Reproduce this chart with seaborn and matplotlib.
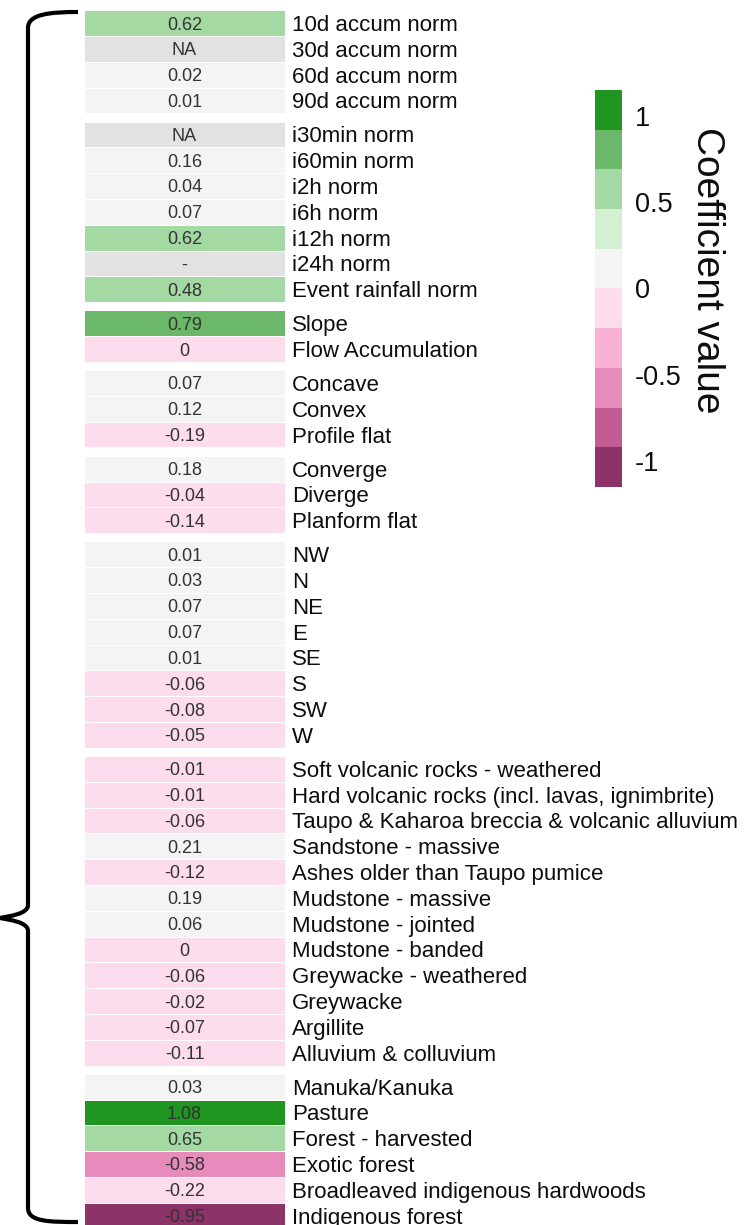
import numpy as np
import pandas as pd
import matplotlib
matplotlib.use("Agg")
import matplotlib.pyplot as plt
from matplotlib.colors import ListedColormap, BoundaryNorm
from matplotlib.cm import ScalarMappable
from matplotlib.path import Path
from matplotlib.patches import PathPatch
import seaborn as sns

# ---- predictor groups and their coefficients (NaN = not available) ----
accum_labels = ["10d accum norm", "30d accum norm", "60d accum norm", "90d accum norm"]
accum_coef = [0.62, np.nan, 0.02, 0.01]

intensity_labels = ["i30min norm", "i60min norm", "i2h norm", "i6h norm",
                    "i12h norm", "i24h norm", "Event rainfall norm"]
intensity_coef = [np.nan, 0.16, 0.04, 0.07, 0.62, np.nan, 0.48]

terrain_labels = ["Slope", "Flow Accumulation"]
terrain_coef = [0.79, 0.0]

profile_labels = ["Concave", "Convex", "Profile flat"]
profile_coef = [0.07, 0.12, -0.19]

planform_labels = ["Converge", "Diverge", "Planform flat"]
planform_coef = [0.18, -0.04, -0.14]

aspect_labels = ["NW", "N", "NE", "E", "SE", "S", "SW", "W"]
aspect_coef = [0.01, 0.03, 0.07, 0.07, 0.01, -0.06, -0.08, -0.05]

geology_labels = ["Soft volcanic rocks - weathered",
                  "Hard volcanic rocks (incl. lavas, ignimbrite)",
                  "Taupo & Kaharoa breccia & volcanic alluvium",
                  "Sandstone - massive", "Ashes older than Taupo pumice",
                  "Mudstone - massive", "Mudstone - jointed", "Mudstone - banded",
                  "Greywacke - weathered", "Greywacke", "Argillite",
                  "Alluvium & colluvium"]
geology_coef = [-0.01, -0.01, -0.06, 0.21, -0.12, 0.19, 0.06, 0.0,
                -0.06, -0.02, -0.07, -0.11]

landcover_labels = ["Manuka/Kanuka", "Pasture", "Forest - harvested",
                    "Exotic forest", "Broadleaved indigenous hardwoods",
                    "Indigenous forest"]
landcover_coef = [0.03, 1.08, 0.65, -0.58, -0.22, -0.95]

# text shown in cells without a coefficient
missing_text = {"30d accum norm": "NA", "i30min norm": "NA", "i24h norm": "-"}

groups = [
    (accum_labels, accum_coef),
    (intensity_labels, intensity_coef),
    (terrain_labels, terrain_coef),
    (profile_labels, profile_coef),
    (planform_labels, planform_coef),
    (aspect_labels, aspect_coef),
    (geology_labels, geology_coef),
    (landcover_labels, landcover_coef),
]

# ---- discrete diverging palette (pink -> white -> green), 10 classes ----
class_colors = ["#8c3468", "#c45c94", "#e68bbb", "#f9b1d6", "#fddcee",
                "#f4f4f4", "#d3f0d3", "#a4d9a4", "#6bb86b", "#1f961f"]
cmap = ListedColormap(class_colors)
bounds = np.linspace(-1.15, 1.15, 11)
bounds[5] = 0.005  # coefficients that round to zero fall in the lower class
norm = BoundaryNorm(bounds, cmap.N)
na_cmap = ListedColormap(["#e2e2e2"])

sns.set_theme(style="white")
plt.rcParams["font.family"] = ["Liberation Sans", "DejaVu Sans"]
plt.rcParams["axes.unicode_minus"] = False

W, H = 747, 1225
fig = plt.figure(figsize=(W / 100, H / 100), dpi=100)


def px_axes(x0, y0, w, h):
    """Axes placed by pixel box (origin at top-left)."""
    return fig.add_axes([x0 / W, 1 - (y0 + h) / H, w / W, h / H])


row_h, gap = 25.8, 8.2
cell_x0, cell_w = 84, 201
top = 10.1
annot_style = {"color": "#333333", "fontsize": 13, "va": "center_baseline"}

for labels, coef in groups:
    n = len(labels)
    ax = px_axes(cell_x0, top, cell_w, n * row_h)
    vals = np.array(coef, dtype=float).reshape(-1, 1)
    df = pd.DataFrame(vals, index=labels, columns=["coef"])
    txt = np.array([[f"{v:g}" if np.isfinite(v) else ""] for v in coef])
    sns.heatmap(df, ax=ax, cmap=cmap, norm=norm, cbar=False,
                annot=txt, fmt="", linewidths=0.7, linecolor="white",
                annot_kws=annot_style,
                xticklabels=False, yticklabels=labels)
    # grey cells for missing coefficients
    na_vals = np.where(np.isnan(vals), 0.0, np.nan)
    na_txt = np.array([[missing_text.get(l, "")] for l in labels])
    if np.isfinite(na_vals).any():
        sns.heatmap(pd.DataFrame(na_vals, index=labels, columns=["coef"]),
                    ax=ax, cmap=na_cmap, vmin=0, vmax=1, cbar=False,
                    annot=na_txt, fmt="", linewidths=0.7, linecolor="white",
                    annot_kws=annot_style,
                    xticklabels=False, yticklabels=labels)
    ax.yaxis.tick_right()
    ax.tick_params(axis="y", length=0, pad=5, labelsize=16, labelcolor="#0d0d0d")
    for t in ax.get_yticklabels():
        t.set_rotation(0)
    ax.set_ylabel("")
    ax.set_xlabel("")
    top += n * row_h + gap

# ---- colour bar ----
cax = px_axes(595, 90, 27, 397)
sm = ScalarMappable(norm=norm, cmap=cmap)
cb = fig.colorbar(sm, cax=cax, ticks=[-1, -0.5, 0, 0.5, 1], spacing="proportional")
cb.outline.set_visible(False)
cax.minorticks_off()
cb.ax.set_yticklabels(["-1", "-0.5", "0", "0.5", "1"])
cax.tick_params(which="both", length=0, labelsize=19.5, pad=9, labelcolor="#0d0d0d")
cb.set_label("Coefficient value", rotation=270, fontsize=28, color="#0d0d0d")
cax.yaxis.set_label_coords(4.8, 0.545)

# ---- curly brace spanning all predictors ----
pts = [(78, 12), (50, 12), (28, 14), (28, 28),
       (28, 905),
       (28, 914), (10, 916), (0, 918),
       (10, 920), (28, 922), (28, 931),
       (28, 1208),
       (28, 1222), (50, 1222), (78, 1222)]
codes = [Path.MOVETO, Path.CURVE4, Path.CURVE4, Path.CURVE4,
         Path.LINETO,
         Path.CURVE4, Path.CURVE4, Path.CURVE4,
         Path.CURVE4, Path.CURVE4, Path.CURVE4,
         Path.LINETO,
         Path.CURVE4, Path.CURVE4, Path.CURVE4]
brace = Path([(x / W, 1 - y / H) for x, y in pts], codes)
fig.add_artist(PathPatch(brace, transform=fig.transFigure, fill=False,
                         lw=3.0, edgecolor="black", capstyle="butt",
                         joinstyle="round"))

fig.savefig("out.png", dpi=100)
